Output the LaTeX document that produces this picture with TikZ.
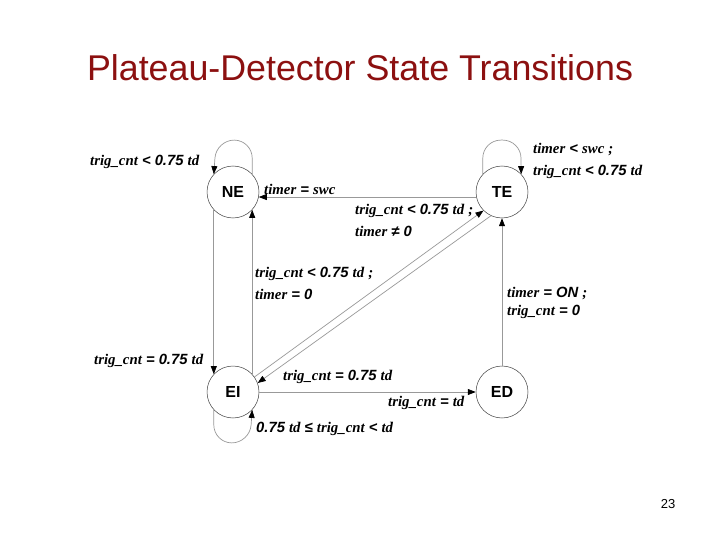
\documentclass[tikz,border=0pt]{standalone}
\usepackage{fontspec}
\setmainfont{Liberation Sans}
\newfontfamily\tms{Liberation Serif}
\usetikzlibrary{arrows.meta}
\newcommand{\myv}[1]{{\tms #1}}
\definecolor{titlered}{RGB}{140,16,16}
\tikzset{
  state/.style={circle, draw=black!75, line width=0.5pt, minimum size=52pt, inner sep=0pt,
    font=\fontsize{16}{18}\selectfont\bfseries},
  conn/.style={draw=black!40, line width=0.7pt, -{Triangle[length=8pt,width=6pt,color=black]}},
  lbl/.style={anchor=west, inner sep=0pt, font=\fontsize{14.8}{17}\selectfont\bfseries\itshape, align=left}
}
\begin{document}
\begin{tikzpicture}[x=1pt,y=-1pt]
\useasboundingbox[fill=white] (0,0) rectangle (720,540);
\node[font=\fontsize{35.8}{40}\selectfont, text=titlered] (title) at (360,68) {Plateau-Detector State Transitions};
\node[font=\fontsize{13}{15}\selectfont] (pg) at (668,504) {23};

\node[state] (NE) at (233,192) {NE};
\node[state] (TE) at (502,192) {TE};
\node[state] (EI) at (233,392) {EI};
\node[state] (ED) at (502,392) {ED};

% self loops
\draw[conn, rounded corners=18pt] (NE.43) -- ++(0,-34) -- ++(-36,0) -- (NE.137);
\draw[conn, rounded corners=18pt] (TE.137) -- ++(0,-34) -- ++(38,0) -- (TE.43);
\draw[conn, rounded corners=18pt] (EI.223) -- ++(0,33) -- ++(36,0) -- (EI.317);

% transitions
\draw[conn] (TE.191) -- (NE.-11);
\draw[conn] (NE.223) -- (EI.137);
\draw[conn] (EI.43) -- (NE.317);
\draw[conn] (EI.35) -- (TE.225);
\draw[conn] (TE.245) -- (EI.20);
\draw[conn] (EI.0) -- (ED.180);
\draw[conn] (ED.90) -- (TE.270);

% labels
\node[lbl] (l1) at (90,162) {\myv{trig\_cnt} < 0.75 \myv{td}};
\node[lbl] (l2) at (264,189) {\myv{timer} = \myv{swc}};
\node[lbl] (l3) at (533,150) {\myv{timer} < \myv{swc} \myv{;}};
\node[lbl] (l4) at (533,172) {\myv{trig\_cnt} < 0.75 \myv{td}};
\node[lbl] (l5) at (355,211) {\myv{trig\_cnt} < 0.75 \myv{td} \myv{;}};
\node[lbl] (l6) at (355,231) {\myv{timer} ≠ 0};
\node[lbl] (l7) at (255,274) {\myv{trig\_cnt} < 0.75 \myv{td} \myv{;}};
\node[lbl] (l8) at (255,294) {\myv{timer} = 0};
\node[lbl] (l9) at (507,293) {\myv{timer} = ON \myv{;}};
\node[lbl] (l10) at (507,312) {\myv{trig\_cnt} = 0};
\node[lbl] (l11) at (94,361) {\myv{trig\_cnt} = 0.75 \myv{td}};
\node[lbl] (l12) at (283,377) {\myv{trig\_cnt} = 0.75 \myv{td}};
\node[lbl] (l13) at (388,403) {\myv{trig\_cnt} = \myv{td}};
\node[lbl] (l14) at (256,429) {0.75 \myv{td} ≤ \myv{trig\_cnt} < \myv{td}};
\end{tikzpicture}
\end{document}
